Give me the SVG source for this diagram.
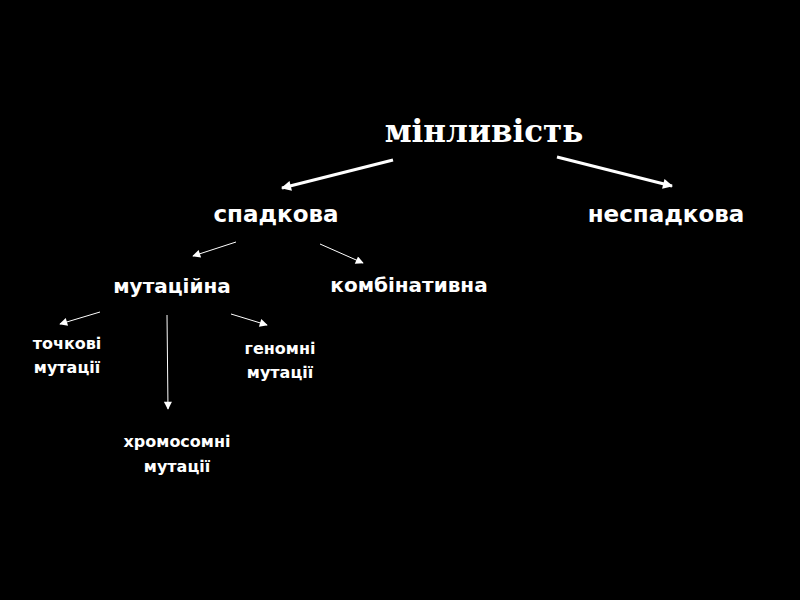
<svg xmlns="http://www.w3.org/2000/svg" width="800" height="600" viewBox="0 0 800 600">
<defs>
<marker id="ah" viewBox="0 0 10 10" refX="9" refY="5" markerWidth="10" markerHeight="8" markerUnits="userSpaceOnUse" orient="auto"><path d="M0,0L10,5L0,10z" fill="#fff"/></marker>
<marker id="ahb" viewBox="0 0 10 10" refX="9" refY="5" markerWidth="14" markerHeight="10" markerUnits="userSpaceOnUse" orient="auto"><path d="M0,0L10,5L0,10z" fill="#fff"/></marker>
</defs>
<style>
text{fill:#fff;font-family:"DejaVu Sans",sans-serif;font-weight:bold;text-anchor:middle}
.t{font-family:"DejaVu Serif",serif;font-size:31px}
.l1{font-size:23px}.l2{font-size:20px}.l3{font-size:16px}
.c{stroke:#fff;fill:none}
</style>
<rect width="800" height="600" fill="#000"/>
<g id="connectors">
<line class="c" x1="393" y1="160" x2="282" y2="188" stroke-width="3" marker-end="url(#ahb)"/>
<line class="c" x1="557" y1="157" x2="672" y2="186" stroke-width="3" marker-end="url(#ahb)"/>
<line class="c" x1="236" y1="242" x2="193" y2="256" marker-end="url(#ah)"/>
<line class="c" x1="320" y1="244" x2="363" y2="263" marker-end="url(#ah)"/>
<line class="c" x1="100" y1="312" x2="60" y2="324" marker-end="url(#ah)"/>
<line class="c" x1="167" y1="315" x2="168" y2="409" marker-end="url(#ah)"/>
<line class="c" x1="231" y1="314" x2="267" y2="325" marker-end="url(#ah)"/>
</g>
<g id="n0"><text class="t" x="484" y="142">мінливість</text></g>
<g id="n1"><text class="l1" x="276" y="222">спадкова</text></g>
<g id="n2"><text class="l1" x="666" y="222">неспадкова</text></g>
<g id="n3"><text class="l2" x="172" y="293">мутаційна</text></g>
<g id="n4"><text class="l2" x="409" y="292">комбінативна</text></g>
<g id="n5"><text class="l3" x="67" y="349">точкові</text><text class="l3" x="67" y="373">мутації</text></g>
<g id="n6"><text class="l3" x="280" y="354">геномні</text><text class="l3" x="280" y="378">мутації</text></g>
<g id="n7"><text class="l3" x="177" y="447">хромосомні</text><text class="l3" x="177" y="472">мутації</text></g>
</svg>
